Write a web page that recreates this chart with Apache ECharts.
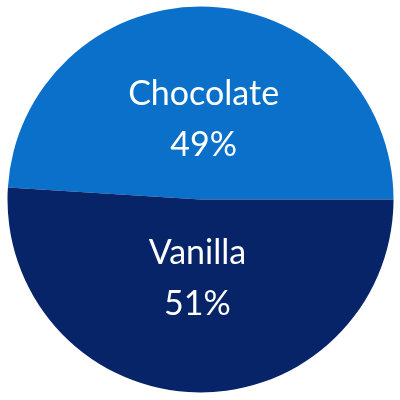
<!DOCTYPE html>
<html>
<head>
<meta charset="utf-8">
<style>html,body{margin:0;padding:0;background:#fff}#c{width:400px;height:400px}</style>
<script src="https://cdn.jsdelivr.net/npm/echarts@6/dist/echarts.min.js"></script>
</head>
<body>
<div id="c"></div>
<script>
const categories = ['Chocolate', 'Vanilla'];
const values = [49, 51];
const colors = ['#0a70c9', '#062467'];

const chart = echarts.init(document.getElementById('c'));
chart.setOption({
  animation: false,
  series: [{
    type: 'pie',
    center: [200.5, 199.5],
    radius: [0, 193],
    startAngle: 0,
    clockwise: false,
    silent: true,
    itemStyle: { borderWidth: 0 },
    data: categories.map((n, i) => ({ name: n, value: values[i], itemStyle: { color: colors[i] } })),
    label: {
      show: true,
      position: 'inside',
      formatter: '{b}\n{d}%',
      color: '#ffffff',
      fontFamily: 'Lato',
      fontSize: 34,
      lineHeight: 51,
      align: 'center'
    },
    labelLayout: function (p) {
      return { dy: p.dataIndex === 0 ? 19 : -20 };
    },
    labelLine: { show: false }
  }]
});
</script>
</body>
</html>
